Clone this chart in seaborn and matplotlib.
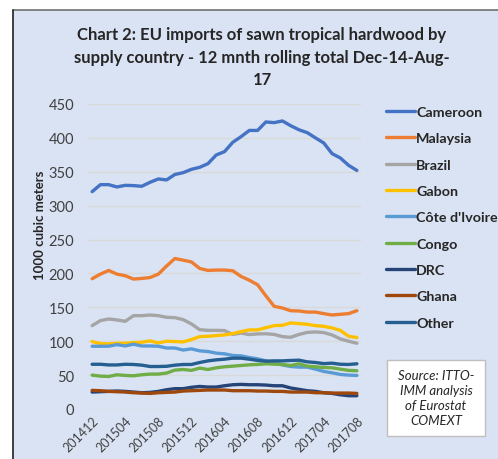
import numpy as np
import pandas as pd
import seaborn as sns
import matplotlib.pyplot as plt
from matplotlib.lines import Line2D
from matplotlib.patches import Rectangle

# monthly periods Dec-14 .. Aug-17
periods = [f"{y}{m:02d}" for y in (2014, 2015, 2016, 2017) for m in range(1, 13)]
periods = periods[periods.index("201412"):periods.index("201708") + 1]

cameroon = [320.7, 331, 331, 327.6, 330, 329.6, 328.6, 334.5, 339.4, 338, 346, 348.7,
            353.6, 356.6, 362, 374.8, 379.7, 393.5, 401.8, 411, 411, 423.5, 422.5, 425,
            418, 412, 407.7, 400, 392.5, 376.8, 370.4, 359.5, 352]
malaysia = [192.2, 199, 204.4, 199, 196.6, 191.7, 192.6, 194, 199, 211, 222, 219.6,
            217, 207.4, 204.4, 205, 205, 204, 195.6, 190, 183.3, 167, 151.5, 149,
            145, 144.6, 143, 143, 140.7, 138.7, 139.7, 140.7, 145]
brazil = [123, 130.4, 132.8, 131.4, 129.4, 137.7, 137.7, 138.7, 137.7, 135.3, 134.8, 131.9,
          125.5, 117, 116, 116, 115.7, 110, 112, 109.8, 110.8, 111, 110, 106.8,
          105.8, 110, 113, 113.7, 112.7, 109.3, 103.4, 100, 97]
gabon = [99.5, 96.5, 96, 97, 97, 98, 98.5, 100.5, 97.5, 100, 99.5, 99,
         102.4, 106.8, 107.3, 108.3, 109.3, 111.3, 114.2, 116.7, 116.7, 120, 123, 123.5,
         127, 126, 125, 123, 122, 119.6, 116, 107.3, 105.4]
cote_divoire = [92.6, 92.6, 92.6, 95, 93, 95.6, 93, 93, 92.6, 90, 90, 87,
                88.7, 85.8, 84.8, 82.4, 81.4, 79, 78.4, 76, 74, 71, 68, 65,
                62.7, 61.8, 61.8, 58.8, 55.4, 53.4, 51, 50, 49.5]
congo = [50, 48.5, 48, 50.5, 49.5, 49, 50.5, 51.5, 51.5, 53, 57.4, 58.3,
         57, 60.3, 58.3, 60.8, 62.3, 63.2, 64.2, 65.2, 65.7, 66.7, 66.2, 65.7,
         64.2, 66.7, 63.2, 62.3, 61.3, 60.8, 58.8, 57, 56.4]
drc = [25, 25.5, 26, 26.5, 26, 25, 24, 24.5, 26, 28.4, 30, 30,
       32, 33.3, 32.4, 32.4, 34.3, 35.8, 36.3, 35.8, 35.8, 35.3, 34.3, 34.3,
       31, 29, 27, 26, 24, 23, 21, 19.6, 19.6]
ghana = [27.5, 27, 26, 25.5, 25, 24, 23.5, 23, 24, 24.5, 25, 26.5,
         27, 27.5, 28, 28, 28, 27, 27, 27, 26.5, 26.5, 26, 26,
         25, 25, 25, 24, 24, 23.5, 23.5, 23.5, 23]
other = [66, 66, 65, 65, 66, 65.7, 64.7, 62.7, 62.7, 63, 64.7, 65.7,
         65.7, 68.6, 71, 72.5, 73.5, 75, 75, 73.5, 71.6, 70.6, 71, 71,
         71.6, 72, 69.6, 68.6, 67, 67.6, 66, 65.7, 66.7]

countries = ["Cameroon", "Malaysia", "Brazil", "Gabon", "Côte d'Ivoire",
             "Congo", "DRC", "Ghana", "Other"]
series = [cameroon, malaysia, brazil, gabon, cote_divoire, congo, drc, ghana, other]
colors = ["#4472C4", "#ED7D31", "#A5A5A5", "#FFC000", "#5B9BD5",
          "#70AD47", "#264478", "#9E480E", "#255E91"]

df = pd.DataFrame({
    "idx": np.tile(np.arange(len(periods)), len(countries)),
    "value": np.concatenate(series),
    "country": np.repeat(countries, len(periods)),
})

sns.set_style("white")
plt.rcParams["font.family"] = ["Lato", "DejaVu Sans"]

bg = "#DAE3F3"
fig = plt.figure(figsize=(4.98, 4.60), dpi=100)
fig.patch.set_facecolor("white")
fig.patches.append(Rectangle((13 / 498, 0), 1, 1 - 11 / 460, transform=fig.transFigure,
                             facecolor=bg, edgecolor="none", zorder=-5))
fig.lines.append(Line2D([13 / 498, 1], [1 - 11 / 460] * 2, transform=fig.transFigure,
                        color="#707070", lw=1.2))
fig.lines.append(Line2D([13 / 498] * 2, [0, 1 - 11 / 460], transform=fig.transFigure,
                        color="#202020", lw=1.2))

ax = fig.add_axes([88 / 498, 1 - 410 / 460, 273 / 498, 305 / 460])
ax.set_facecolor(bg)
ax.patch.set_alpha(0)
sns.lineplot(data=df, x="idx", y="value", hue="country", hue_order=countries,
             palette=colors, linewidth=2.4, legend=False, ax=ax)

ax.set_xlim(-0.5, len(periods) - 0.5)
ax.set_ylim(0, 450)
ax.set_yticks(range(0, 451, 50))
ax.set_xticks(range(0, len(periods), 4))
ax.set_xticklabels(periods[::4], rotation=45, ha="right", rotation_mode="anchor",
                   fontsize=9, color="#404040")
ax.tick_params(axis="y", labelsize=10.5, colors="#404040", pad=10, length=0)
ax.tick_params(axis="x", length=0, pad=4)
ax.grid(axis="y", color="#D9D9D9", lw=1)
ax.set_axisbelow(True)
for s in ax.spines.values():
    s.set_visible(False)
ax.set_xlabel("")
ax.set_ylabel("1000 cubic meters", fontsize=9.5, fontweight="bold")
ax.yaxis.set_label_coords(-0.154, 0.607)

fig.text(262 / 498, 1 - 27 / 460,
         "Chart 2: EU imports of sawn tropical hardwood by\n"
         "supply country - 12 mnth rolling total Dec-14-Aug-\n17",
         ha="center", va="top", fontsize=12, fontweight="bold", linespacing=1.5)

handles = [Line2D([], [], color=c, lw=2.4) for c in colors]
leg = fig.legend(handles, countries, loc="upper left",
                 bbox_to_anchor=(386 / 498, 1 - 107 / 460), frameon=False,
                 handlelength=2.0, handletextpad=0.1, labelspacing=1.0,
                 borderpad=0, borderaxespad=0, prop={"weight": "bold", "size": 10.3})

fig.patches.append(Rectangle((387 / 498, 1 - 437 / 460), 98 / 498, 76 / 460,
                             transform=fig.transFigure, facecolor="white",
                             edgecolor="#BFBFBF", lw=1, zorder=1))
fig.text(436 / 498, 1 - 399 / 460, "Source: ITTO-\nIMM analysis\nof Eurostat\nCOMEXT",
         ha="center", va="center", fontsize=9.5, style="italic", linespacing=1.3)

fig.savefig("out.png", dpi=100, facecolor=fig.get_facecolor())
